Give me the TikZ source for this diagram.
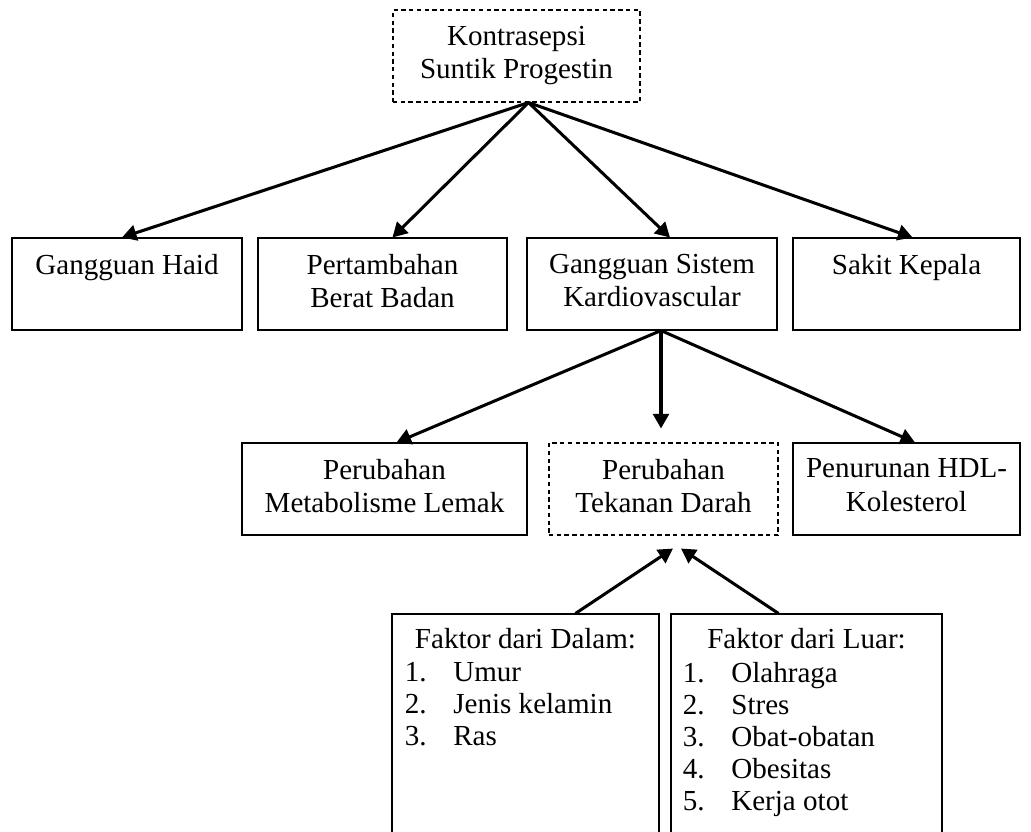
\documentclass[tikz,border=0pt]{standalone}
\usepackage{fontspec}
\setmainfont{Liberation Serif}
\usepackage{tikz}
\usetikzlibrary{arrows.meta, positioning, fit, calc}
\tikzset{
  box_solid/.style={draw=black, line width=0.45pt, inner sep=0pt},
  box_dashed/.style={box_solid, dash pattern=on 1.8pt off 1.4pt},
  box_text/.style={anchor=north, align=center, inner sep=0pt, font=\fontsize{12}{13.7}\selectfont},
  list_text/.style={anchor=north west, align=left, inner sep=0pt, font=\fontsize{12}{13.2}\selectfont},
  link/.style={line width=1.25pt, -{Triangle[length=6pt, width=6.5pt]}}
}
\newcommand{\numitem}[2]{\makebox[20pt][l]{#1}#2}

\begin{document}
\begin{tikzpicture}[x=0.413pt, y=-0.413pt]
\useasboundingbox (0,0) rectangle (1031,832);
% top box
\node[box_dashed, fit={(393,10) (640,102)}] (kontrasepsi) {};
\node[box_text] (kontrasepsi_text) at ($(kontrasepsi.north)+(0,16)$) {Kontrasepsi\\Suntik Progestin};
% second row
\node[box_solid, fit={(12,238) (242,330)}] (haid) {};
\node[box_solid, fit={(258,238) (507,330)}] (berat) {};
\node[box_solid, fit={(527,238) (777,330)}] (kardio) {};
\node[box_solid, fit={(793,238) (1020,330)}] (kepala) {};
\node[box_text] (haid_text) at ($(haid.north)+(0,16)$) {Gangguan Haid};
\node[box_text] (berat_text) at ($(berat.north)+(0,16)$) {Pertambahan\\Berat Badan};
\node[box_text] (kardio_text) at ($(kardio.north)+(0,16)$) {Gangguan Sistem\\Kardiovascular};
\node[box_text] (kepala_text) at ($(kepala.north)+(0,16)$) {Sakit Kepala};
% third row
\node[box_solid, fit={(242,443) (527,535)}] (lemak) {};
\node[box_dashed, fit={(549,443) (778,535)}] (tekanan) {};
\node[box_solid, fit={(793,443) (1020,535)}] (hdl) {};
\node[box_text] (lemak_text) at ($(lemak.north)+(0,16)$) {Perubahan\\Metabolisme Lemak};
\node[box_text] (tekanan_text) at ($(tekanan.north)+(0,16)$) {Perubahan\\Tekanan Darah};
\node[box_text] (hdl_text) at ($(hdl.north)+(0,16)$) {Penurunan HDL-\\Kolesterol};
% factor boxes
\node[box_solid, fit={(392,614) (659,845)}] (dalam) {};
\node[box_solid, fit={(671,614) (942,845)}] (luar) {};
\node[box_text] (dalam_title) at ($(dalam.north)+(0,14)$) {Faktor dari Dalam:};
\node[box_text] (luar_title) at ($(luar.north)+(0,14)$) {Faktor dari Luar:};
\node[list_text] (dalam_list) at ($(dalam_title.south -| dalam.west)+(13,13)$) {\numitem{1.}{Umur}\\\numitem{2.}{Jenis kelamin}\\\numitem{3.}{Ras}};
\node[list_text] (luar_list) at ($(luar_title.south -| luar.west)+(12,13)$) {\numitem{1.}{Olahraga}\\\numitem{2.}{Stres}\\\numitem{3.}{Obat-obatan}\\\numitem{4.}{Obesitas}\\\numitem{5.}{Kerja otot}};
% connectors
\coordinate (kontrasepsi_out) at ($(kontrasepsi.south)+(12,0)$);
\draw[link] (kontrasepsi_out) -- ($(haid.north)+(-5,0)$);
\draw[link] (kontrasepsi_out) -- ($(berat.north)+(10,0)$);
\draw[link] (kontrasepsi_out) -- ($(kardio.north)+(18,0)$);
\draw[link] (kontrasepsi_out) -- ($(kepala.north)+(6,0)$);
\coordinate (kardio_out) at ($(kardio.south)+(9,0)$);
\draw[link] (kardio_out) -- ($(lemak.north)+(12,0)$);
\draw[link] (kardio_out) -- ($(tekanan.north)+(-2.5,-14)$);
\draw[link] (kardio_out) -- ($(hdl.north)+(8.5,0)$);
\draw[link] ($(dalam.north)+(50,0)$) -- ($(tekanan.south)+(9.5,13)$);
\draw[link] ($(luar.north)+(-28,0)$) -- ($(tekanan.south)+(17.5,13)$);
\end{tikzpicture}
\end{document}
